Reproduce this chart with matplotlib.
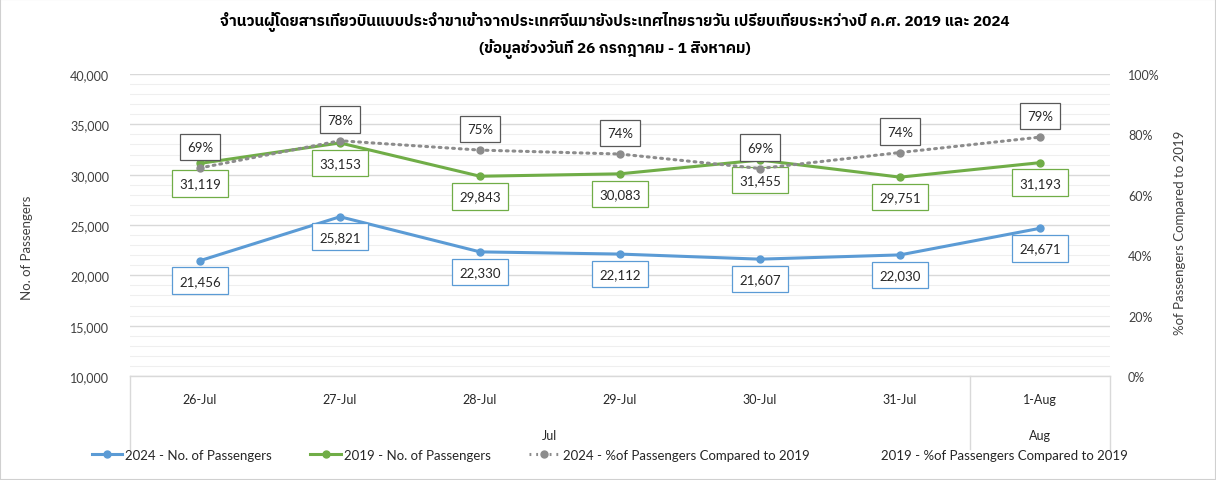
import matplotlib
matplotlib.use("Agg")
import matplotlib.pyplot as plt
from matplotlib import font_manager as fm
from matplotlib.ft2font import FT2Font
from matplotlib.lines import Line2D
from matplotlib.patches import Rectangle
from matplotlib.ticker import MultipleLocator, FuncFormatter

# ---------------- data ----------------
dates = ["26-Jul", "27-Jul", "28-Jul", "29-Jul", "30-Jul", "31-Jul", "1-Aug"]
months = ["Jul", "Aug"]
month_spans = [(0, 5), (6, 6)]
pax_2024 = [21456, 25821, 22330, 22112, 21607, 22030, 24671]
pax_2019 = [31119, 33153, 29843, 30083, 31455, 29751, 31193]
pct_2024 = [68.9, 77.9, 74.8, 73.5, 68.7, 74.0, 79.1]

title_line1 = "จำนวนผู้โดยสารเที่ยวบินแบบประจำขาเข้าจากประเทศจีนมายังประเทศไทยรายวัน เปรียบเทียบระหว่างปี ค.ศ. 2019 และ 2024"
title_line2 = "(ข้อมูลช่วงวันที่ 26 กรกฎาคม - 1 สิงหาคม)"
legend_labels = ["2024 - No. of Passengers", "2019 - No. of Passengers",
                 "2024 - %of Passengers Compared to 2019",
                 "2019 - %of Passengers Compared to 2019"]
ylabel_left = "No. of Passengers"
ylabel_right = "%of Passengers Compared to 2019"

# ---------------- fonts ----------------
thai = []
seen = set()
for f in fm.fontManager.ttflist:
    if f.name in seen:
        continue
    try:
        ft = FT2Font(f.fname)
        if ft.get_char_index(ord("จ")) and ft.get_char_index(ord("A")):
            thai.append(f.name)
            seen.add(f.name)
    except Exception:
        pass
pref = [n for n in thai if "Tahoma" in n or "Leelawadee" in n or "Sans" in n]
thai_font = (pref + thai + ["DejaVu Sans"])[0]
title_family = [thai_font, "DejaVu Sans"]

base = "Lato"
plt.rcParams["font.family"] = [base, "DejaVu Sans"]

BLUE = "#5B9BD5"
GREEN = "#70AD47"
GRAY = "#8C8C8C"
TXT = "#404040"

W, H = 1216, 481
fig = plt.figure(figsize=(W / 100, H / 100), dpi=100)
fig.patches.append(Rectangle((0, 0), 1, 1, transform=fig.transFigure,
                             fill=False, edgecolor="#D0D0D0", lw=1.5))

left, right, top, bottom = 130, 1110, 75, 377
ax = fig.add_axes([left / W, 1 - bottom / H, (right - left) / W, (bottom - top) / H])
ax2 = ax.twinx()

x = list(range(len(dates)))
ax.set_xlim(-0.5, len(dates) - 0.5)
ax.set_ylim(10000, 40000)
ax2.set_ylim(0, 100)

ax.yaxis.set_major_locator(MultipleLocator(5000))
ax.yaxis.set_minor_locator(MultipleLocator(1000))
ax.yaxis.set_major_formatter(FuncFormatter(lambda v, p: f"{int(v):,}"))
ax2.yaxis.set_major_locator(MultipleLocator(20))
ax2.yaxis.set_major_formatter(FuncFormatter(lambda v, p: f"{int(v)}%"))

ax.grid(which="major", axis="y", color="#D9D9D9", lw=1.0)
ax.grid(which="minor", axis="y", color="#EFEFEF", lw=0.8)
ax.set_axisbelow(True)
for a in (ax, ax2):
    for s in a.spines.values():
        s.set_visible(False)
    a.tick_params(axis="y", which="both", length=0, labelsize=9, labelcolor=TXT)
ax.tick_params(axis="y", pad=15)
ax2.tick_params(axis="y", pad=13)
ax.set_xticks([])
ax2.set_xticks([])

fig.text(27 / W, 1 - 248 / H, ylabel_left, rotation=90, ha="center", va="center",
         fontsize=9.5, color=TXT)
fig.text(1180 / W, 1 - 233 / H, ylabel_right, rotation=90, ha="center", va="center",
         fontsize=9.5, color=TXT)

# lines
ax.plot(x, pax_2024, color=BLUE, lw=2.2, marker="o", ms=5, zorder=3)
ax.plot(x, pax_2019, color=GREEN, lw=2.2, marker="o", ms=5, zorder=3)
ax2.plot(x, pct_2024, color=GRAY, lw=2.2, ls=(0, (0.6, 1.6)), dash_capstyle="round",
         marker="o", ms=5, zorder=3)

def box(edge):
    return dict(boxstyle="square,pad=0.55", fc="white", ec=edge, lw=0.9)

for i in x:
    ax.annotate(f"{pax_2024[i]:,}", (i, pax_2024[i]), xytext=(0, -20),
                textcoords="offset pixels", ha="center", va="center",
                fontsize=9.5, color="#262626", bbox=box(BLUE), zorder=5)
    ax.annotate(f"{pax_2019[i]:,}", (i, pax_2019[i]), xytext=(0, -20),
                textcoords="offset pixels", ha="center", va="center",
                fontsize=9.5, color="#262626", bbox=box(GREEN), zorder=5)
    ax2.annotate(f"{round(pct_2024[i])}%", (i, pct_2024[i]), xytext=(0, 21),
                 textcoords="offset pixels", ha="center", va="center",
                 fontsize=9.5, color="#262626", bbox=box("#595959"), zorder=6)

# category axis (dates + months)
ah = bottom - top
tr = ax.get_xaxis_transform()
for i, d in enumerate(dates):
    ax.text(i, -(400 - bottom) / ah, d, transform=tr, ha="center", va="center",
            fontsize=9, color="#262626", clip_on=False)
for m, (a, b) in zip(months, month_spans):
    ax.text((a + b) / 2, -(436 - bottom) / ah, m, transform=tr, ha="center",
            va="center", fontsize=9, color="#262626", clip_on=False)
ybot = -(450 - bottom) / ah
for xv in [-0.5, 5.5, 6.5]:
    ax.add_line(Line2D([xv, xv], [0, ybot], transform=tr, color="#D9D9D9",
                       lw=1.0, clip_on=False))
ax.add_line(Line2D([-0.5, 6.5], [0, 0], transform=tr, color="#D9D9D9", lw=1.0,
                   clip_on=False))

# title
fig.text(615 / W, 1 - 22 / H, title_line1, ha="center", va="center",
         fontsize=11, fontweight="bold", family=title_family, color="#000000")
fig.text(615 / W, 1 - 49 / H, title_line2, ha="center", va="center",
         fontsize=11, fontweight="bold", family=title_family, color="#000000")

# legend
handles = [
    Line2D([], [], color=BLUE, lw=2.2, marker="o", ms=5),
    Line2D([], [], color=GREEN, lw=2.2, marker="o", ms=5),
    Line2D([], [], color=GRAY, lw=2.2, ls=(0, (0.6, 1.6)), marker="o", ms=5),
    Line2D([], [], color="none"),
]
fig.legend(handles, legend_labels, loc="center", bbox_to_anchor=(610 / W, 1 - 456 / H),
           ncol=4, frameon=False, fontsize=9.5, handlelength=2.3, handletextpad=0.25,
           columnspacing=2.9, labelcolor="#262626")

fig.savefig("out.png", dpi=100)
